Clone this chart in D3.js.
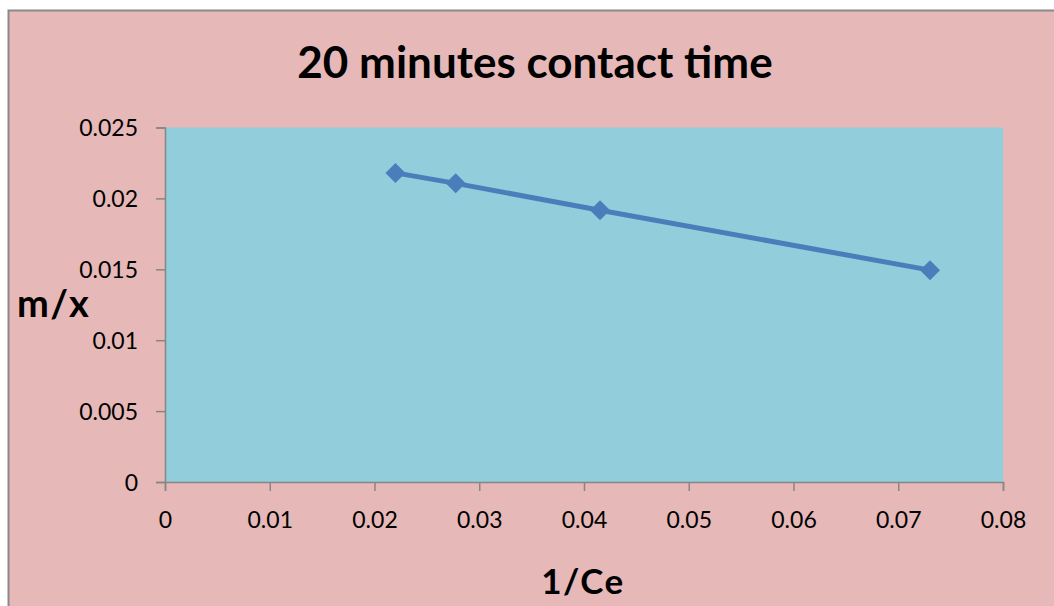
<!DOCTYPE html>
<html>
<head>
<meta charset="utf-8">
<script src="https://cdn.jsdelivr.net/npm/d3@7"></script>
<style>
  body { margin: 0; background: #fff; }
  text { font-family: Lato, "Open Sans", sans-serif; fill: #000; }
</style>
</head>
<body>
<div id="chart"></div>
<script>
// data
var chartTitle = "20 minutes contact time";
var xLabel = "1/Ce";
var yLabel = "m/x";
var xValues = [0.0220, 0.02775, 0.04153, 0.07303];
var yValues = [0.0218, 0.02106, 0.01917, 0.01494];
var xTicks = [0, 0.01, 0.02, 0.03, 0.04, 0.05, 0.06, 0.07, 0.08];
var yTicks = [0, 0.005, 0.01, 0.015, 0.02, 0.025];

var width = 1054, height = 606;
var plot = {left: 165, top: 127.5, right: 1003, bottom: 482}; //plot area box

var svg = d3.select("#chart").append("svg")
  .attr("width", width)
  .attr("height", height);

// chart area
svg.append("rect")
  .attr("x", 8.5).attr("y", 10.5)
  .attr("width", width + 10).attr("height", height + 10)
  .attr("fill", "#e6b8b7")
  .attr("stroke", "#898989")
  .attr("stroke-width", 2);

svg.append("rect")
  .attr("x", plot.left).attr("y", plot.top)
  .attr("width", plot.right - plot.left).attr("height", plot.bottom - plot.top)
  .attr("fill", "#92cddc");

var x = d3.scaleLinear().domain([0, 0.08]).range([plot.left, plot.right]);
var y = d3.scaleLinear().domain([0, 0.025]).range([plot.bottom, plot.top]);

var fmt = function(d) { return d === 0 ? "0" : String(+d.toFixed(3)); };

// axes
var xAxis = svg.append("g")
  .attr("transform", "translate(0," + plot.bottom + ")")
  .call(d3.axisBottom(x).tickValues(xTicks).tickFormat(fmt).tickSize(9).tickPadding(21));

var yAxis = svg.append("g")
  .attr("transform", "translate(" + plot.left + ",0)")
  .call(d3.axisLeft(y).tickValues(yTicks).tickFormat(fmt).tickSize(9).tickPadding(18));

[xAxis, yAxis].forEach(function(a) {
  a.select(".domain").attr("stroke", "#868686").attr("stroke-width", 1.5);
  a.selectAll(".tick line").attr("stroke", "#868686").attr("stroke-width", 1.5);
  a.selectAll(".tick text")
    .attr("font-size", 23)
    .attr("fill", "#111")
    .style("font-family", "Lato, 'Open Sans', sans-serif");
});
yAxis.selectAll(".tick text").attr("dy", "0.35em");

// series line
var pts = xValues.map(function(v, i) { return [v, yValues[i]]; });

svg.append("path")
  .datum(pts)
  .attr("fill", "none")
  .attr("stroke", "#4a7ebb")
  .attr("stroke-width", 5)
  .attr("d", d3.line().x(function(d) { return x(d[0]); }).y(function(d) { return y(d[1]); }));

svg.selectAll(".marker")
  .data(pts)
  .enter()
  .append("path")
  .attr("class", "marker")
  .attr("transform", function(d) { return "translate(" + x(d[0]) + "," + y(d[1]) + ")"; })
  .attr("d", "M0,-10L10,0L0,10L-10,0Z")
  .attr("fill", "#4a7ebb");

// titles
svg.append("text")
  .attr("x", 535).attr("y", 78)
  .attr("text-anchor", "middle")
  .attr("font-size", 44)
  .attr("font-weight", "bold")
  .text(chartTitle);

svg.append("text")
  .attr("x", 17).attr("y", 317)
  .attr("font-size", 38)
  .attr("font-weight", "bold")
  .attr("letter-spacing", 1.5)
  .text(yLabel);

svg.append("text")
  .attr("x", 583).attr("y", 594)
  .attr("text-anchor", "middle")
  .attr("font-size", 35)
  .attr("font-weight", "bold")
  .attr("letter-spacing", 1.5)
  .text(xLabel);
</script>
</body>
</html>
